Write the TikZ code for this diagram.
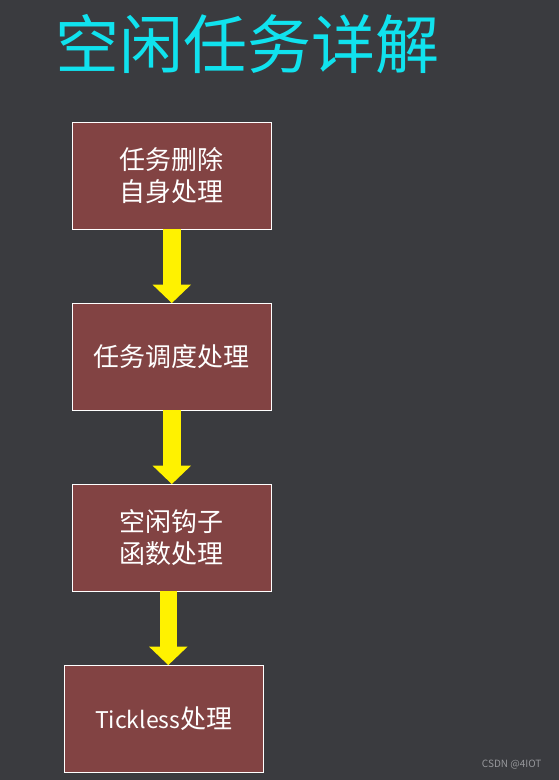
\documentclass[tikz,border=0pt]{standalone}
\usepackage{fontspec}
\usepackage{xcolor}
\usepackage{tikz}
\usetikzlibrary{arrows.meta, positioning}
\setmainfont{Noto Sans CJK SC}
\definecolor{bg}{RGB}{58,59,63}
\definecolor{brick}{RGB}{130,67,67}
\definecolor{head}{RGB}{16,226,238}
\definecolor{mark}{RGB}{150,151,155}

\begin{document}
\begin{tikzpicture}[
    box/.style={rectangle, draw=white, line width=1pt, fill=brick, text=white,
                minimum width=199pt, minimum height=107pt, inner sep=0pt, outer sep=0pt,
                align=center, font=\fontsize{26}{32}\selectfont},
    ar/.style={-{Triangle[width=37.5pt, length=18.5pt]}, draw=yellow, line width=17.5pt}
]
\fill[bg] (0pt,0pt) rectangle (559pt,-780pt);
\node[text=head, font=\fontsize{64}{64}\selectfont] (t) at (248pt,-44pt) {空闲任务详解};
\node[box] (del) at (171.8pt,-175.6pt) {任务删除\\自身处理};
\node[box, below=74pt of del] (sch) {任务调度处理};
\node[box, below=74pt of sch] (hook) {空闲钩子\\函数处理};
\node[box, below=74pt of hook, xshift=-8pt] (tick) {{\fontsize{23}{32}\selectfont Tickless}处理};
\draw[ar] (del) -- (sch);
\draw[ar] (sch) -- (hook);
\draw[ar] ([xshift=-3.5pt]hook.south) -- ([xshift=4.5pt]tick.north);
\node[text=mark, font=\fontsize{10}{12}\selectfont, anchor=east] (wm) at (545pt,-765pt) {CSDN @4IOT};
\end{tikzpicture}
\end{document}
